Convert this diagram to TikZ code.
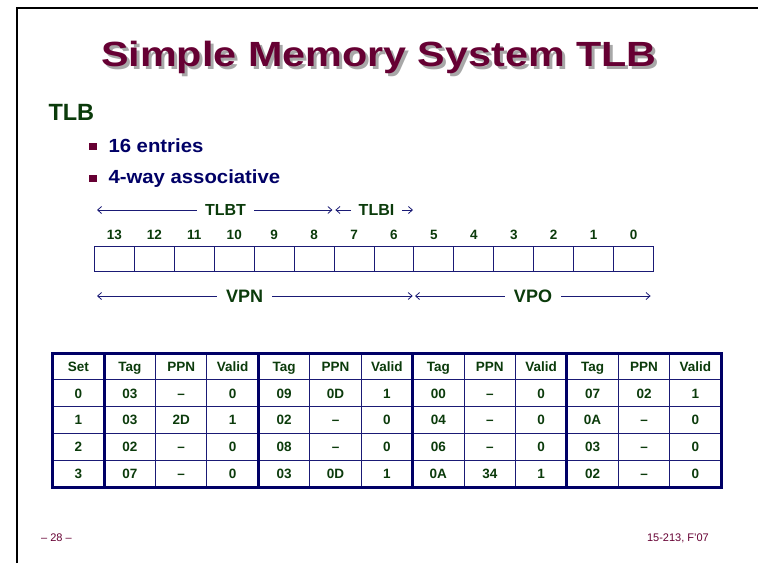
\documentclass[tikz,border=0pt]{standalone}
\usepackage{fontspec}
\setmainfont{Liberation Sans}
\usetikzlibrary{arrows.meta}
\definecolor{maroon}{HTML}{660033}
\definecolor{dkgreen}{HTML}{0B3B0B}
\definecolor{navytxt}{HTML}{000066}
\definecolor{rulecol}{HTML}{1A1A75}
\definecolor{shadowgray}{HTML}{A8A8A8}
\newcommand{\fs}[1]{\fontsize{#1}{#1}\selectfont}

\begin{document}
\begin{tikzpicture}[x=1pt,y=-1pt,
  titletext/.style={anchor=base west,inner sep=0,font=\bfseries\fs{35}},
  heading/.style={anchor=base west,inner sep=0,font=\bfseries\fs{23.5},text=dkgreen},
  bullettext/.style={anchor=base west,inner sep=0,font=\bfseries\fs{19},text=navytxt},
  bulletsq/.style={fill=maroon,minimum size=7.4pt,inner sep=0},
  bitcell/.style={draw=rulecol,line width=0.9pt,minimum width=39.93pt,minimum height=25pt,inner sep=0},
  bitnum/.style={font=\bfseries\fs{13.5},text=dkgreen,inner sep=0,anchor=base},
  fieldlabel/.style={font=\bfseries\fs{16},text=dkgreen,inner ysep=0},
  biglabel/.style={font=\bfseries\fs{18},text=dkgreen,inner ysep=0},
  span/.style={draw=rulecol,line width=0.8pt},
  tip/.style={-{Straight Barb[length=4pt,width=7pt]}},
  cell/.style={font=\bfseries\fs{13.5},text=dkgreen,inner sep=0,anchor=base},
  thin/.style={draw=rulecol,line width=1pt},
  thick/.style={draw=navytxt,line width=3pt},
  footer/.style={font=\fs{11},text=maroon,inner sep=0}]
\useasboundingbox (0,0) rectangle (758,563);
\fill[white] (0,0) rectangle (758,563);

% slide frame
\draw[black,line width=2pt] (16.7,563) -- (16.7,7.8) -- (758,7.8);

% title with drop shadow
\node[titletext,text=shadowgray] (titleshadow) at (104,69) {\scalebox{1.18}[1]{Simple Memory System TLB}};
\node[titletext,text=maroon] (title) at (101,66) {\scalebox{1.18}[1]{Simple Memory System TLB}};

% heading and bullets
\node[heading] (tlbhead) at (48.3,120.7) {TLB};
\node[bulletsq] (sq1) at (93,146.4) {};
\node[bullettext] (b1) at (108.3,152.3) {\scalebox{1.07}[1]{16 entries}};
\node[bulletsq] (sq2) at (93,178.4) {};
\node[bullettext] (b2) at (108.3,183.3) {\scalebox{1.07}[1]{4-way associative}};

% virtual address bits
\foreach \i in {0,...,13} {
  \pgfmathtruncatemacro{\bit}{13-\i}
  \node[bitcell] (cell\bit) at ({94.5+39.93*(\i+0.5)},258.5) {};
  \node[bitnum] (num\bit) at ({94.5+39.93*(\i+0.5)},239.2) {\bit};
}

% TLBT / TLBI spans
\coordinate (tlbtL) at (97,210);
\coordinate (tlbtR) at (332.4,210);
\node[fieldlabel,inner xsep=8pt] (tlbt) at (225.5,210) {TLBT};
\draw[span,tip] (tlbt.west) -- (tlbtL);
\draw[span,tip] (tlbt.east) -- (tlbtR);
\coordinate (tlbiL) at (335.4,210);
\coordinate (tlbiR) at (413,210);
\node[fieldlabel,inner xsep=7.5pt] (tlbi) at (376.5,210) {TLBI};
\draw[span,tip] (tlbi.west) -- (tlbiL);
\draw[span,tip] (tlbi.east) -- (tlbiR);

% VPN / VPO spans
\coordinate (vpnL) at (97,296);
\coordinate (vpnR) at (412.7,296);
\node[biglabel,inner xsep=9pt] (vpn) at (244.6,296) {VPN};
\draw[span,tip] (vpn.west) -- (vpnL);
\draw[span,tip] (vpn.east) -- (vpnR);
\coordinate (vpoL) at (415,296);
\coordinate (vpoR) at (650.6,296);
\node[biglabel,inner xsep=9pt] (vpo) at (533,296) {VPO};
\draw[span,tip] (vpo.west) -- (vpoL);
\draw[span,tip] (vpo.east) -- (vpoR);

% TLB contents table
\def\tx{52.7}\def\tw{51.42}\def\ty{353}\def\th{26.8}
\foreach \r in {1,...,4}
  \draw[thin] (\tx,{\ty+\th*\r}) -- ({\tx+13*\tw},{\ty+\th*\r});
\foreach \c in {2,3,5,6,8,9,11,12}
  \draw[thin] ({\tx+\tw*\c},\ty) -- ({\tx+\tw*\c},{\ty+5*\th});
\foreach \c in {1,4,7,10}
  \draw[thick] ({\tx+\tw*\c},\ty) -- ({\tx+\tw*\c},{\ty+5*\th});
\draw[thick] (\tx,\ty) rectangle ({\tx+13*\tw},{\ty+5*\th});

\foreach \row [count=\r from 0] in {
  {Set,Tag,PPN,Valid,Tag,PPN,Valid,Tag,PPN,Valid,Tag,PPN,Valid},
  {0,03,–,0,09,0D,1,00,–,0,07,02,1},
  {1,03,2D,1,02,–,0,04,–,0,0A,–,0},
  {2,02,–,0,08,–,0,06,–,0,03,–,0},
  {3,07,–,0,03,0D,1,0A,34,1,02,–,0}} {
  \foreach \val [count=\c from 0] in \row
    \node[cell] (t-\r-\c) at ({\tx+\tw*(\c+0.5)},{\ty+\th*(\r+0.5)+4.8}) {\val};
}

% footer
\node[footer,anchor=base west] (pagenum) at (41,541) {– 28 –};
\node[footer,anchor=base east] (course) at (709,541) {15-213, F'07};
\end{tikzpicture}
\end{document}
